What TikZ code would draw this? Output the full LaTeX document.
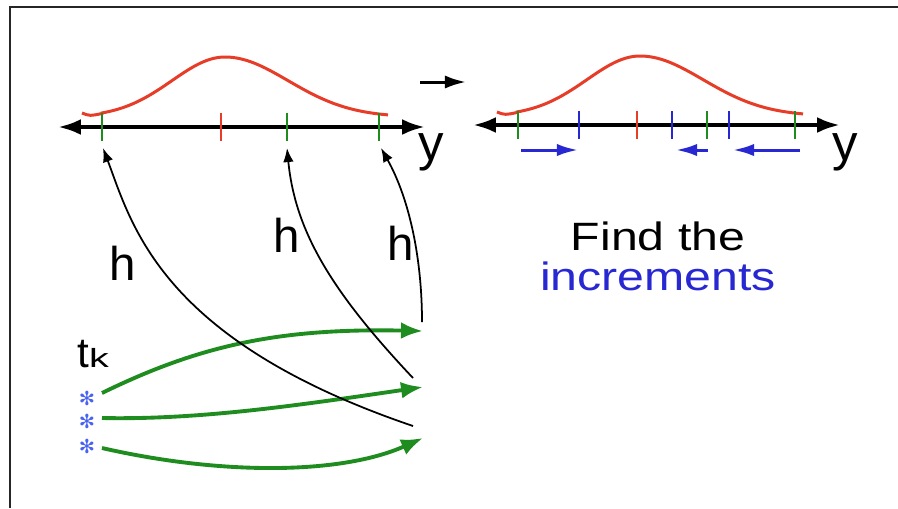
\documentclass[tikz,border=0pt]{standalone}
\usepackage{fontspec}
\setmainfont{Liberation Sans}
\newfontfamily\widefont[FakeStretch=1.22]{Liberation Sans}
\newfontfamily\subfont[FakeStretch=1.5]{Liberation Sans}
\newfontfamily\symfont{DejaVu Sans}
\usetikzlibrary{arrows.meta}
\definecolor{BellRed}{HTML}{E63C28}
\definecolor{TickGreen}{HTML}{1E8C1E}
\definecolor{IncBlue}{HTML}{2828D2}
\definecolor{StarBlue}{HTML}{4A62F0}
% bell curve: #1 = peak x, #2 = base y
\newcommand{\bellcurve}[2]{%
  \draw[bell] (#1-143,#2-4) .. controls (#1-135,#2-1) .. (#1-123,#2-3.5)
    -- plot[domain=#1-123:#1+163, samples=80]
       (\x, {#2-60*exp(-((\x-#1)/((\x<#1) ? 53 : 63))^2/2)});}

\begin{document}
\begin{tikzpicture}[
  x=0.02cm, y=-0.02cm,
  bell/.style={line width=1.7pt, color=BellRed},
  axisline/.style={line width=2.3pt, {Latex[length=13pt,width=9pt]}-{Latex[length=13pt,width=9pt]}},
  gtick/.style={line width=1.6pt, color=TickGreen},
  rtick/.style={line width=1.6pt, color=BellRed},
  btick/.style={line width=1.6pt, color=IncBlue},
  incarrow/.style={line width=1.7pt, color=IncBlue, -{Latex[length=12pt,width=7pt]}},
  harrow/.style={line width=1pt, -{Latex[length=8pt,width=6pt]}},
  garrow/.style={line width=2.2pt, color=TickGreen, -{Latex[length=12.5pt,width=9.5pt]}},
  ylabel/.style={inner sep=0pt, anchor=base, font=\fontsize{29}{29}\selectfont},
  hlabel/.style={inner sep=0pt, anchor=base, font=\fontsize{27}{27}\selectfont},
  starnode/.style={inner sep=0pt, text=StarBlue, font=\symfont\fontsize{11}{11}\selectfont}
]
  \useasboundingbox (0,0) rectangle (898,508);
  \fill[white] (0,0) rectangle (898,508);
  \draw[black!85, line width=1.2pt] (10,508) -- (10,7) -- (898,7);

  % left number line
  \bellcurve{225}{117}
  \draw[axisline] (58,127) -- (425,127);
  \foreach \tx in {102,287,379} \draw[gtick] (\tx,113) -- (\tx,141);
  \draw[rtick] (221,113) -- (221,141);
  \node[ylabel] (yleft) at (431,160) {y};

  % step arrow
  \coordinate (stepfrom) at (420,82);
  \coordinate (stepto) at (466,82);
  \draw[line width=1.7pt, -{Latex[length=12pt,width=7.5pt]}] (stepfrom) -- (stepto);

  % right number line
  \bellcurve{640}{116}
  \draw[axisline] (473,125) -- (840,125);
  \foreach \tx in {518,707,795} \draw[gtick] (\tx,111) -- (\tx,139);
  \draw[rtick] (637,111) -- (637,139);
  \foreach \tx in {579,672,729} \draw[btick] (\tx,111) -- (\tx,139);
  \foreach \a/\b in {521/578,708/676,800/733} \draw[incarrow] (\a,150) -- (\b,150);
  \node[ylabel] (yright) at (845,160) {y};

  \node[inner sep=0pt, anchor=base, font=\widefont\fontsize{22.5}{22.5}\selectfont] (find) at (658,250) {Find the};
  \node[inner sep=0pt, anchor=base, text=IncBlue, font=\widefont\fontsize{22.5}{22.5}\selectfont] (incr) at (658,290) {increments};

  % samples t_k
  \node[inner sep=0pt, anchor=base west] (tk) at (77,367) {\fontsize{24}{24}\selectfont t\subfont\fontsize{15}{15}\selectfont k};
  \node[starnode] (star1) at (87,398) {✻};
  \node[starnode] (star2) at (87,421) {✻};
  \node[starnode] (star3) at (87,446) {✻};

  \coordinate (s1) at (102,393);
  \coordinate (s2) at (102,418);
  \coordinate (s3) at (102,448);
  \coordinate (e1) at (423,331);
  \coordinate (e2) at (423,387);
  \coordinate (e3) at (423,438);
  \draw[garrow] (s1) .. controls (200,345) and (280,328) .. (e1);
  \draw[garrow] (s2) .. controls (200,420) and (300,405) .. (e2);
  \draw[garrow] (s3) .. controls (220,475) and (340,475) .. (e3);

  % h maps back onto the line
  \coordinate (b1) at (413,426);
  \coordinate (b2) at (413,378);
  \coordinate (b3) at (422,322);
  \coordinate (hit1) at (103,148);
  \coordinate (hit2) at (287,148);
  \coordinate (hit3) at (381,148);
  \draw[harrow] (b1) .. controls (160,340) and (132,225) .. (hit1);
  \draw[harrow] (b2) .. controls (330,290) and (295,230) .. (hit2);
  \draw[harrow] (b3) .. controls (422,260) and (410,200) .. (hit3);

  \node[hlabel] (h1) at (123,280) {h};
  \node[hlabel] (h2) at (287,252) {h};
  \node[hlabel] (h3) at (401,260) {h};
\end{tikzpicture}
\end{document}
